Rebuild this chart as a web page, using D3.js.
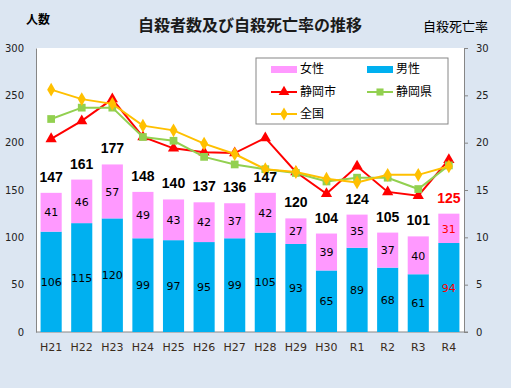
<!DOCTYPE html>
<html>
<head>
<meta charset="utf-8">
<script src="https://cdn.jsdelivr.net/npm/d3@7"></script>
<style>
  body { margin: 0; background: #dce6f2; }
  svg { display: block; }
</style>
</head>
<body>
<svg></svg>
<script>
const years = ["H21","H22","H23","H24","H25","H26","H27","H28","H29","H30","R1","R2","R3","R4"];
const male = [106,115,120,99,97,95,99,105,93,65,89,68,61,94];
const female = [41,46,57,49,43,42,37,42,27,39,35,37,40,31];
const total = [147,161,177,148,140,137,136,147,120,104,124,105,101,125];
const cityRate = [20.4,22.3,24.6,20.6,19.4,19.0,18.9,20.5,16.9,14.6,17.5,14.8,14.4,18.2];
const prefRate = [22.5,23.7,23.7,20.6,20.2,18.5,17.7,17.2,16.8,15.9,16.3,16.3,15.1,17.6];
const nationRate = [25.6,24.6,24.1,21.8,21.3,19.9,18.8,17.2,16.9,16.2,15.8,16.6,16.6,17.5];
const leftTicks = [0,50,100,150,200,250,300];
const rightTicks = [0,5,10,15,20,25,30];

const width = 511;
const height = 388;
const plotLeft = 36, plotRight = 464, plotTop = 48, plotBottom = 332;
const numFont = "'DejaVu Sans', sans-serif";
const jpFont = "'Noto Sans CJK JP', sans-serif";

const svg = d3.select('svg')
                .attr("width", width)
                .attr("height", height);

svg.append("rect")
    .attr("width", width).attr("height", height)
    .attr("fill", "#dce6f2");

svg.append("rect")
    .attr("x", plotLeft).attr("y", plotTop)
    .attr("width", plotRight - plotLeft).attr("height", plotBottom - plotTop)
    .attr("fill", "#fff");

const xScale = d3.scaleBand()
                .domain(years)
                .range([plotLeft, plotRight])
                .paddingInner(0.31)
                .paddingOuter(0.15);

const yScale = d3.scaleLinear()
                .domain([0, 300])
                .range([plotBottom, plotTop]);

const rScale = d3.scaleLinear()
                .domain([0, 30])
                .range([plotBottom, plotTop]);

const cx = d => xScale(d) + xScale.bandwidth() / 2;

// axes
const yAxis = d3.axisLeft(yScale).tickValues(leftTicks).tickSize(0).tickPadding(12);
const rAxis = d3.axisRight(rScale).tickValues(rightTicks).tickSize(4).tickPadding(8);
const xAxis = d3.axisBottom(xScale).tickSize(0).tickPadding(11);

function styleAxis(g) {
  g.select(".domain").attr("stroke", "#868686");
  g.selectAll(".tick line").attr("stroke", "#868686");
  g.selectAll("text")
    .attr("fill", "#222")
    .style("font-family", numFont)
    .style("font-size", "10px");
}

svg.append('g')
    .attr('transform', `translate(${plotLeft}, 0)`)
    .call(yAxis)
    .call(styleAxis);

svg.append('g')
    .attr('transform', `translate(${plotRight}, 0)`)
    .call(rAxis)
    .call(styleAxis);

svg.append('g')
    .attr('transform', `translate(0, ${plotBottom})`)
    .call(xAxis)
    .call(styleAxis)
    .call(g => g.select(".domain").attr("d", `M${plotLeft},0H${plotRight + 4}`))
    .selectAll("text")
    .style("font-size", "11px")
    .attr("fill", "#3a2a1a");

// bars
svg.append("g")
  .selectAll("rect")
    .data(years)
    .enter()
    .append("rect")
    .attr("x", d => xScale(d))
    .attr("width", xScale.bandwidth())
    .attr("y", (d, i) => yScale(male[i]))
    .attr("height", (d, i) => plotBottom - yScale(male[i]))
    .attr("fill", "#00b0f0");

svg.append("g")
  .selectAll("rect")
    .data(years)
    .enter()
    .append("rect")
    .attr("x", d => xScale(d))
    .attr("width", xScale.bandwidth())
    .attr("y", (d, i) => yScale(male[i] + female[i]))
    .attr("height", (d, i) => yScale(male[i]) - yScale(male[i] + female[i]))
    .attr("fill", "#ff99ff");

// bar labels
const last = years.length - 1;
svg.append("g")
  .selectAll("text")
    .data(years)
    .enter()
    .append("text")
    .attr("x", cx)
    .attr("y", (d, i) => (yScale(0) + yScale(male[i])) / 2)
    .attr("dy", "0.38em")
    .attr("text-anchor", "middle")
    .style("font-family", numFont)
    .style("font-size", "11px")
    .attr("fill", (d, i) => i === last ? "#ff0000" : "#000")
    .text((d, i) => male[i]);

svg.append("g")
  .selectAll("text")
    .data(years)
    .enter()
    .append("text")
    .attr("x", cx)
    .attr("y", (d, i) => (yScale(male[i]) + yScale(male[i] + female[i])) / 2)
    .attr("dy", "0.38em")
    .attr("text-anchor", "middle")
    .style("font-family", numFont)
    .style("font-size", "11px")
    .attr("fill", (d, i) => i === last ? "#ff0000" : "#000")
    .text((d, i) => female[i]);

// lines
const series = [
  {name: "静岡市", values: cityRate, color: "#ff0000", marker: d3.symbolTriangle},
  {name: "静岡県", values: prefRate, color: "#92d050", marker: d3.symbolSquare},
  {name: "全国", values: nationRate, color: "#ffc000", marker: d3.symbolDiamond}
];

const line = d3.line()
    .x((d, i) => cx(years[i]))
    .y(d => rScale(d));

series.forEach(s => {
  svg.append("path")
      .datum(s.values)
      .attr("d", line)
      .attr("fill", "none")
      .attr("stroke", s.color)
      .attr("stroke-width", 2);
  svg.append("g")
    .selectAll("path")
      .data(s.values)
      .enter()
      .append("path")
      .attr("transform", (d, i) => `translate(${cx(years[i])},${rScale(d)})`)
      .attr("d", d3.symbol().type(s.marker).size(s.marker === d3.symbolSquare ? 60 : 55))
      .attr("fill", s.color);
});

// totals
svg.append("g")
  .selectAll("text")
    .data(years)
    .enter()
    .append("text")
    .attr("x", cx)
    .attr("y", (d, i) => yScale(total[i]) - 11)
    .attr("text-anchor", "middle")
    .style("font-family", "'Liberation Sans', Arial, sans-serif")
    .style("font-weight", "bold")
    .style("font-size", "14px")
    .attr("fill", (d, i) => i === last ? "#ff0000" : "#000")
    .text((d, i) => total[i]);

// titles
svg.append("text")
    .attr("x", 250).attr("y", 31)
    .attr("text-anchor", "middle")
    .style("font-family", jpFont)
    .style("font-weight", "bold")
    .style("font-size", "16px")
    .attr("fill", "#1a1a1a")
    .text("自殺者数及び自殺死亡率の推移");

svg.append("text")
    .attr("x", 26).attr("y", 24)
    .style("font-family", jpFont)
    .style("font-weight", "bold")
    .style("font-size", "12px")
    .text("人数");

svg.append("text")
    .attr("x", 423).attr("y", 31)
    .style("font-family", jpFont)
    .style("font-size", "13px")
    .text("自殺死亡率");

// legend
const legend = svg.append("g");
legend.append("rect")
    .attr("x", 256).attr("y", 58)
    .attr("width", 192).attr("height", 66)
    .attr("fill", "#fff")
    .attr("stroke", "#868686");

const legendItems = [
  {name: "女性", color: "#ff99ff", x: 271, y: 69, bar: true},
  {name: "男性", color: "#00b0f0", x: 367, y: 69, bar: true},
  {name: series[0].name, color: series[0].color, x: 271, y: 92, marker: series[0].marker},
  {name: series[1].name, color: series[1].color, x: 367, y: 92, marker: series[1].marker},
  {name: series[2].name, color: series[2].color, x: 271, y: 114, marker: series[2].marker}
];

legendItems.forEach(it => {
  if (it.bar) {
    legend.append("rect")
        .attr("x", it.x).attr("y", it.y - 3)
        .attr("width", 26).attr("height", 7)
        .attr("fill", it.color);
  } else {
    legend.append("line")
        .attr("x1", it.x).attr("x2", it.x + 26)
        .attr("y1", it.y).attr("y2", it.y)
        .attr("stroke", it.color).attr("stroke-width", 2);
    legend.append("path")
        .attr("transform", `translate(${it.x + 13},${it.y})`)
        .attr("d", d3.symbol().type(it.marker).size(50))
        .attr("fill", it.color);
  }
  legend.append("text")
      .attr("x", it.x + 29).attr("y", it.y)
      .attr("dy", "0.36em")
      .style("font-family", jpFont)
      .style("font-size", "12px")
      .attr("fill", "#000")
      .text(it.name);
});
</script>
</body>
</html>
